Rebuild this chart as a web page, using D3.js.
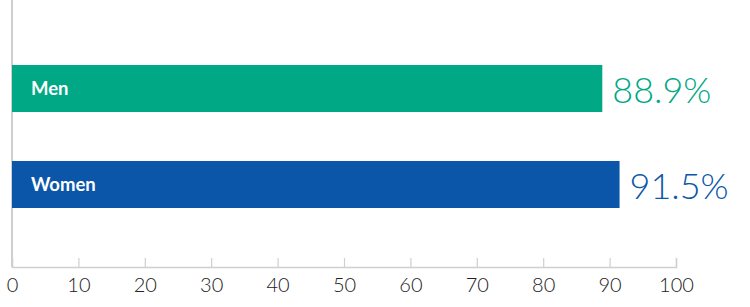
<!DOCTYPE html>
<html><head><meta charset="utf-8">
<script src="https://cdn.jsdelivr.net/npm/d3@7"></script>
<style>body{margin:0;background:#fff}svg{display:block}</style>
</head><body>
<svg id="c" width="750" height="307"></svg>
<script>
const categories = ["Men", "Women"];
const values = [88.9, 91.5];
const valueLabels = ["88.9%", "91.5%"];
const colors = ["#00a886", "#0b56a9"];
const tickValues = [0,10,20,30,40,50,60,70,80,90,100];

const svg = d3.select("#c");
const x = d3.scaleLinear().domain([0,100]).range([12, 676]);
const y = d3.scaleBand().domain(categories).range([17, 256]).paddingInner(0.51).paddingOuter(0.5);

// axis
const axisG = svg.append("g").attr("transform","translate(0,267)")
  .call(d3.axisBottom(x).tickValues(tickValues).tickSize(-9).tickPadding(11).tickFormat(d3.format("d")));
axisG.select(".domain").attr("stroke","#cfcfcf").attr("stroke-width",1.5);
axisG.selectAll(".tick line").attr("stroke","#cfcfcf").attr("stroke-width",1.2);
axisG.selectAll(".tick text").attr("fill","#222").attr("font-family","Lato, 'Open Sans', sans-serif")
  .attr("font-weight",300).attr("font-size",20).attr("dy","0.71em");

svg.append("line").attr("x1",x(0)).attr("x2",x(0)).attr("y1",0).attr("y2",267)
  .attr("stroke","#cfcfcf").attr("stroke-width",2);

const g = svg.selectAll(".bar").data(categories).enter().append("g");
g.append("rect").attr("x",x(0)).attr("y",d=>y(d)).attr("height",y.bandwidth())
  .attr("width",(d,i)=>x(values[i])-x(0)).attr("fill",(d,i)=>colors[i]);
g.append("text").attr("x",x(0)+19).attr("y",d=>y(d)+y.bandwidth()/2).attr("dy","0.36em")
  .attr("fill","#fff").attr("font-family","Lato, sans-serif").attr("font-weight",700).attr("font-size",18.5)
  .text(d=>d);
g.append("text").attr("x",(d,i)=>x(values[i])+10).attr("y",d=>y(d)+y.bandwidth()/2+2).attr("dy","0.36em")
  .attr("fill",(d,i)=>colors[i]).attr("font-family","Lato, sans-serif").attr("font-weight",300).attr("font-size",36)
  .text((d,i)=>valueLabels[i]);
</script>
</body></html>
